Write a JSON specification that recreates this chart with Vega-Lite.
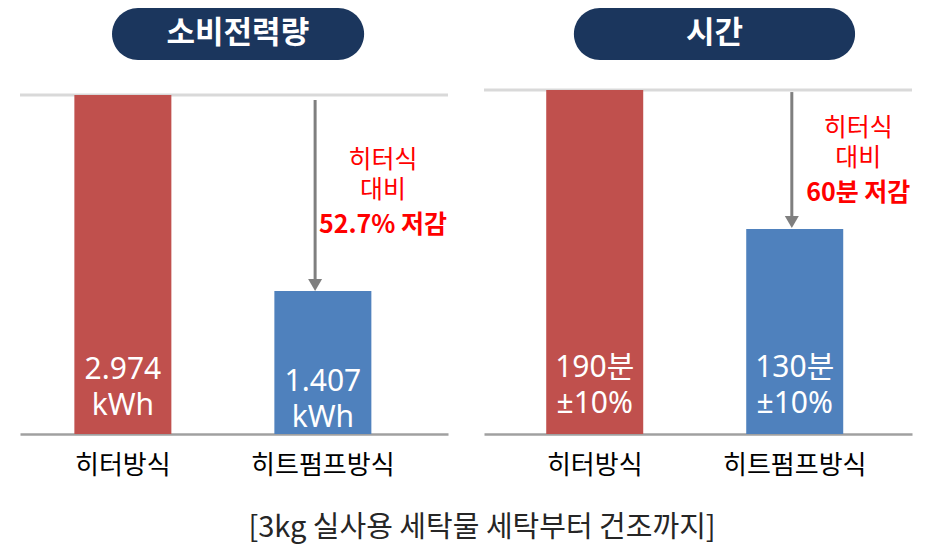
{
  "$schema": "https://vega.github.io/schema/vega-lite/v6.json",
  "background": "white",
  "padding": {"left": 18, "top": 8, "right": 16, "bottom": 6},
  "spacing": 28,
  "config": {"view": {"stroke": null}, "font": "Noto Sans CJK KR"},
  "title": {"text": "[3kg 실사용 세탁물 세탁부터 건조까지]", "orient": "bottom", "anchor": "middle", "fontSize": 29, "fontWeight": "normal", "color": "#262626", "offset": 36, "dx": 16, "font": "Noto Sans CJK KR"},
  "datasets": {
    "power": [
      {"방식": "히터방식", "값": 2.974, "label": "2.974\nkWh"},
      {"방식": "히트펌프방식", "값": 1.407, "label": "1.407\nkWh"}
    ],
    "time": [
      {"방식": "히터방식", "값": 190, "label": "190분\n±10%"},
      {"방식": "히트펌프방식", "값": 130, "label": "130분\n±10%"}
    ],
    "powerNote": [{"note": "히터식\n대비", "emph": "52.7% 저감"}],
    "timeNote": [{"note": "히터식\n대비", "emph": "60분 저감"}]
  },
  "vconcat": [
    {
      "spacing": 36,
      "bounds": "flush",
      "hconcat": [
        {
          "width": 428, "height": 52,
          "data": {"values": [{"제목": "소비전력량"}]},
          "layer": [
            {"mark": {"type": "rect", "cornerRadius": 26, "color": "#1b365d"},
             "encoding": {"x": {"datum": 0.215, "type": "quantitative", "scale": {"domain": [0, 1]}, "axis": null}, "x2": {"datum": 0.804}}},
            {"mark": {"type": "text", "color": "white", "fontSize": 31, "fontWeight": "bold"},
             "encoding": {"x": {"datum": 0.509, "type": "quantitative", "axis": null}, "text": {"field": "제목"}}}
          ]
        },
        {
          "width": 428, "height": 52,
          "data": {"values": [{"제목": "시간"}]},
          "layer": [
            {"mark": {"type": "rect", "cornerRadius": 26, "color": "#1b365d"},
             "encoding": {"x": {"datum": 0.21, "type": "quantitative", "scale": {"domain": [0, 1]}, "axis": null}, "x2": {"datum": 0.867}}},
            {"mark": {"type": "text", "color": "white", "fontSize": 31, "fontWeight": "bold"},
             "encoding": {"x": {"datum": 0.5385, "type": "quantitative", "axis": null}, "text": {"field": "제목"}}}
          ]
        }
      ]
    },
    {
      "spacing": 36,
      "bounds": "flush",
      "hconcat": [
        {
          "width": 428, "height": 346,
          "data": {"name": "power"},
          "layer": [
            {"data": {"values": [{"v": 2.974}]},
             "mark": {"type": "rule", "color": "#d9d9d9", "strokeWidth": 3},
             "encoding": {"y": {"field": "v", "type": "quantitative", "scale": {"domain": [0.264, 3.03], "nice": false, "zero": false}, "axis": null}}},
            {"mark": {"type": "bar"},
             "encoding": {
               "x": {"field": "방식", "type": "nominal", "sort": null,
                     "scale": {"domain": ["히터방식", "히트펌프방식"], "paddingInner": 0.515, "paddingOuter": 0.3275, "align": 0.415},
                     "axis": {"title": null, "labelAngle": 0, "labelFontSize": 26, "labelColor": "#000000", "ticks": false, "domainColor": "#a0a0a0", "domainWidth": 2.5, "labelPadding": 18, "labelFont": "Noto Sans CJK KR"}},
               "y": {"field": "값", "type": "quantitative", "scale": {"domain": [0.264, 3.03], "nice": false, "zero": false}, "axis": null},
               "y2": {"datum": 0.264},
               "color": {"field": "방식", "type": "nominal", "scale": {"domain": ["히터방식", "히트펌프방식"], "range": ["#c0504d", "#4f81bd"]}, "legend": null}
             }},
            {"mark": {"type": "rule", "color": "#7f7f7f", "strokeWidth": 3},
             "data": {"name": "powerNote"},
             "encoding": {
               "x": {"datum": "히트펌프방식", "type": "nominal", "bandPosition": 0.42},
               "y": {"datum": 2.934, "type": "quantitative", "scale": {"domain": [0.264, 3.03], "nice": false, "zero": false}},
               "y2": {"datum": 1.495}
             }},
            {"mark": {"type": "point", "shape": "triangle-down", "filled": true, "size": 196, "color": "#7f7f7f", "opacity": 1},
             "data": {"name": "powerNote"},
             "encoding": {
               "x": {"datum": "히트펌프방식", "type": "nominal", "bandPosition": 0.42},
               "y": {"datum": 1.455, "type": "quantitative", "scale": {"domain": [0.264, 3.03], "nice": false, "zero": false}}
             }},
            {"mark": {"type": "text", "color": "#ff0000", "fontSize": 25, "lineBreak": "\n", "lineHeight": 30, "baseline": "middle"},
             "data": {"name": "powerNote"},
             "encoding": {
               "x": {"datum": "히트펌프방식", "type": "nominal", "bandPosition": 1.12},
               "y": {"datum": 2.454, "type": "quantitative", "scale": {"domain": [0.264, 3.03], "nice": false, "zero": false}},
               "text": {"field": "note"}
             }},
            {"mark": {"type": "text", "color": "#ff0000", "fontSize": 25, "fontWeight": "bold", "baseline": "middle"},
             "data": {"name": "powerNote"},
             "encoding": {
               "x": {"datum": "히트펌프방식", "type": "nominal", "bandPosition": 1.12},
               "y": {"datum": 1.935, "type": "quantitative", "scale": {"domain": [0.264, 3.03], "nice": false, "zero": false}},
               "text": {"field": "emph"}
             }},
            {"transform": [{"filter": "datum['방식'] === '히터방식'"}],
             "mark": {"type": "text", "color": "white", "fontSize": 30, "font": "Noto Sans, Noto Sans CJK KR", "lineBreak": "\n", "lineHeight": 36, "baseline": "middle"},
             "encoding": {
               "x": {"field": "방식", "type": "nominal"},
               "y": {"datum": 0.776, "type": "quantitative", "scale": {"domain": [0.264, 3.03], "nice": false, "zero": false}},
               "text": {"field": "label"}
             }},
            {"transform": [{"filter": "datum['방식'] === '히트펌프방식'"}],
             "mark": {"type": "text", "color": "white", "fontSize": 30, "font": "Noto Sans, Noto Sans CJK KR", "lineBreak": "\n", "lineHeight": 36, "baseline": "middle"},
             "encoding": {
               "x": {"field": "방식", "type": "nominal"},
               "y": {"datum": 0.680, "type": "quantitative", "scale": {"domain": [0.264, 3.03], "nice": false, "zero": false}},
               "text": {"field": "label"}
             }}
          ]
        },
        {
          "width": 428, "height": 346,
          "data": {"name": "time"},
          "layer": [
            {"data": {"values": [{"v": 190}]},
             "mark": {"type": "rule", "color": "#d9d9d9", "strokeWidth": 3},
             "encoding": {"y": {"field": "v", "type": "quantitative", "scale": {"domain": [41.5, 190.85], "nice": false, "zero": false}, "axis": null}}},
            {"mark": {"type": "bar"},
             "encoding": {
               "x": {"field": "방식", "type": "nominal", "sort": null,
                     "scale": {"domain": ["히터방식", "히트펌프방식"], "paddingInner": 0.515, "paddingOuter": 0.3275, "align": 0.475},
                     "axis": {"title": null, "labelAngle": 0, "labelFontSize": 26, "labelColor": "#000000", "ticks": false, "domainColor": "#a0a0a0", "domainWidth": 2.5, "labelPadding": 18, "labelFont": "Noto Sans CJK KR"}},
               "y": {"field": "값", "type": "quantitative", "scale": {"domain": [41.5, 190.85], "nice": false, "zero": false}, "axis": null},
               "y2": {"datum": 41.5},
               "color": {"field": "방식", "type": "nominal", "scale": {"domain": ["히터방식", "히트펌프방식"], "range": ["#c0504d", "#4f81bd"]}, "legend": null}
             }},
            {"mark": {"type": "rule", "color": "#7f7f7f", "strokeWidth": 3},
             "data": {"name": "timeNote"},
             "encoding": {
               "x": {"datum": "히트펌프방식", "type": "nominal", "bandPosition": 0.47},
               "y": {"datum": 189.1, "type": "quantitative", "scale": {"domain": [41.5, 190.85], "nice": false, "zero": false}},
               "y2": {"datum": 135.2}
             }},
            {"mark": {"type": "point", "shape": "triangle-down", "filled": true, "size": 196, "color": "#7f7f7f", "opacity": 1},
             "data": {"name": "timeNote"},
             "encoding": {
               "x": {"datum": "히트펌프방식", "type": "nominal", "bandPosition": 0.47},
               "y": {"datum": 133.0, "type": "quantitative", "scale": {"domain": [41.5, 190.85], "nice": false, "zero": false}}
             }},
            {"mark": {"type": "text", "color": "#ff0000", "fontSize": 25, "lineBreak": "\n", "lineHeight": 30, "baseline": "middle"},
             "data": {"name": "timeNote"},
             "encoding": {
               "x": {"datum": "히트펌프방식", "type": "nominal", "bandPosition": 1.155},
               "y": {"datum": 173.6, "type": "quantitative", "scale": {"domain": [41.5, 190.85], "nice": false, "zero": false}},
               "text": {"field": "note"}
             }},
            {"mark": {"type": "text", "color": "#ff0000", "fontSize": 25, "fontWeight": "bold", "baseline": "middle"},
             "data": {"name": "timeNote"},
             "encoding": {
               "x": {"datum": "히트펌프방식", "type": "nominal", "bandPosition": 1.155},
               "y": {"datum": 145.5, "type": "quantitative", "scale": {"domain": [41.5, 190.85], "nice": false, "zero": false}},
               "text": {"field": "emph"}
             }},
            {"mark": {"type": "text", "color": "white", "fontSize": 30, "font": "Noto Sans, Noto Sans CJK KR", "lineBreak": "\n", "lineHeight": 36, "baseline": "middle"},
             "encoding": {
               "x": {"field": "방식", "type": "nominal"},
               "y": {"datum": 70.0, "type": "quantitative", "scale": {"domain": [41.5, 190.85], "nice": false, "zero": false}},
               "text": {"field": "label"}
             }}
          ]
        }
      ]
    }
  ]
}
